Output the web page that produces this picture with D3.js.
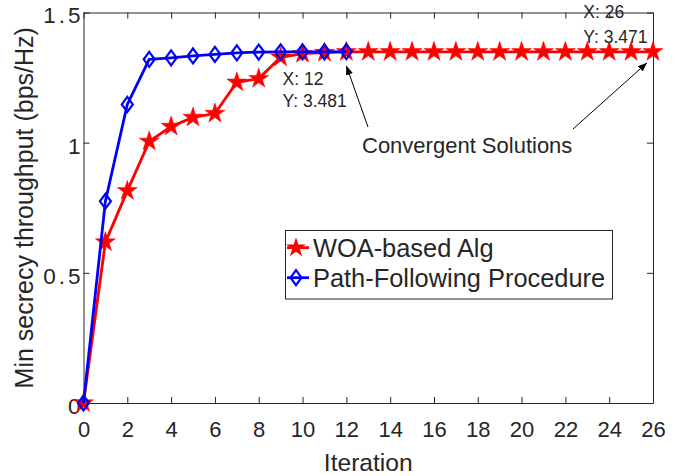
<!DOCTYPE html>
<html><head><meta charset="utf-8">
<script src="https://cdn.jsdelivr.net/npm/d3@7"></script>
<style>body{margin:0;background:#fff}svg{display:block}text{font-family:"Liberation Sans",Arial,Helvetica,sans-serif;fill:#262626}</style>
</head><body><svg id="c" width="689" height="476"></svg>
<script>
const iterations = d3.range(0, 27);
const woaValues = [0, 0.618, 0.815, 1.005, 1.062, 1.097, 1.112, 1.232, 1.246, 1.328, 1.342, 1.346, 1.349, 1.349, 1.349, 1.349, 1.349, 1.349, 1.349, 1.349, 1.349, 1.349, 1.349, 1.349, 1.349, 1.349, 1.349];
const pathIter = d3.range(0, 13);
const pathValues = [0, 0.775, 1.147, 1.320, 1.326, 1.333, 1.339, 1.345, 1.348, 1.349, 1.349, 1.349, 1.350];
const xTicks = d3.range(0, 27, 2);
const yTicks = [0, 0.5, 1, 1.5];
const seriesNames = ["WOA-based Alg", "Path-Following Procedure"];

(function () {
const svg = d3.select("#c");
const L = 83.5, R = 653, T = 12.5, B = 403;
const x = d3.scaleLinear().domain([0, 26]).range([L, R]);
const y = d3.scaleLinear().domain([0, 1.5]).range([B, T]);
const ax = "#262626";
const FF = '"Liberation Sans",Arial,sans-serif';

const axisG = svg.append("g");
const gBottom = axisG.append("g").attr("transform", `translate(0,${B})`)
  .call(d3.axisBottom(x).tickValues(xTicks).tickSizeInner(-6).tickSizeOuter(0).tickPadding(18).tickFormat(d3.format("d")));
axisG.append("g").attr("transform", `translate(0,${T})`)
  .call(d3.axisTop(x).tickValues(xTicks).tickSizeInner(-6).tickSizeOuter(0).tickFormat(""));
const gLeft = axisG.append("g").attr("transform", `translate(${L},0)`)
  .call(d3.axisLeft(y).tickValues(yTicks).tickSizeInner(-6).tickSizeOuter(0).tickPadding(0).tickFormat(d => d));
axisG.append("g").attr("transform", `translate(${R},0)`)
  .call(d3.axisRight(y).tickValues(yTicks).tickSizeInner(-6).tickSizeOuter(0).tickFormat(""));
axisG.selectAll("path.domain").attr("stroke", ax).attr("stroke-width", 1);
axisG.selectAll(".tick line").attr("stroke", ax).attr("stroke-width", 1);
gBottom.selectAll("text").attr("font-size", 22).attr("fill", ax).attr("font-family", FF).attr("dy", "0.71em");
gLeft.selectAll("text").attr("font-size", 22.5).attr("fill", ax).attr("font-family", FF).attr("dy", "0.46em").attr("letter-spacing", 3);

svg.append("text").attr("x", (L + R) / 2).attr("y", 471).attr("text-anchor", "middle").attr("font-size", 24.6).text("Iteration");
svg.append("text").attr("transform", `translate(33,${(T + B) / 2}) rotate(-90)`).attr("text-anchor", "middle").attr("font-size", 25).text("Min secrecy throughput (bps/Hz)");

function starPath(Ro) {
  const ri = Ro * 0.382; let p = "";
  for (let i = 0; i < 10; i++) {
    const r = i % 2 ? ri : Ro; const a = -Math.PI / 2 + i * Math.PI / 5;
    p += (i ? "L" : "M") + (r * Math.cos(a)).toFixed(2) + "," + (r * Math.sin(a)).toFixed(2);
  }
  return p + "Z";
}
const diamond = "M0,-7.5L5.5,0L0,7.5L-5.5,0Z";

const line = d3.line().x(d => x(d[0])).y(d => y(d[1]));
const woa = iterations.map((d, i) => [d, woaValues[i]]);
const pf = pathIter.map((d, i) => [d, pathValues[i]]);

svg.append("path").datum(woa).attr("d", line).attr("fill", "none").attr("stroke", "#ff0000").attr("stroke-width", 2.8);
svg.append("g").selectAll("path").data(woa).join("path").attr("d", starPath(10.5))
  .attr("transform", d => `translate(${x(d[0])},${y(d[1])})`).attr("fill", "#ff0000").attr("stroke", "#ff0000").attr("stroke-width", 0.5);
svg.append("path").datum(pf).attr("d", line).attr("fill", "none").attr("stroke", "#0000ff").attr("stroke-width", 2.8);
svg.append("g").selectAll("path").data(pf).join("path").attr("d", diamond)
  .attr("transform", d => `translate(${x(d[0])},${y(d[1])})`).attr("fill", "none").attr("stroke", "#0000ff").attr("stroke-width", 2.2);

const tipFont = 17.5;
[["X: 12", 282.5, 85], ["Y: 3.481", 282.5, 106.7], ["X: 26", 583.3, 18.3], ["Y: 3.471", 583.3, 43.3]].forEach(t =>
  svg.append("text").attr("x", t[1]).attr("y", t[2]).attr("font-size", tipFont).attr("fill", "#111").text(t[0]));

svg.append("defs").append("marker").attr("id", "ah").attr("viewBox", "0 0 10 10").attr("refX", 10).attr("refY", 5)
  .attr("markerWidth", 9).attr("markerHeight", 9).attr("markerUnits", "userSpaceOnUse").attr("orient", "auto")
  .append("path").attr("d", "M0,1L10,5L0,9Z").attr("fill", "#000");
svg.append("line").attr("x1", 368).attr("y1", 127).attr("x2", x(12)).attr("y2", y(1.349) + 14)
  .attr("stroke", "#000").attr("stroke-width", 1).attr("marker-end", "url(#ah)");
svg.append("line").attr("x1", 573).attr("y1", 129).attr("x2", x(26) - 6).attr("y2", y(1.349) + 11)
  .attr("stroke", "#000").attr("stroke-width", 1).attr("marker-end", "url(#ah)");
svg.append("text").attr("x", 362).attr("y", 153).attr("font-size", 22).attr("fill", "#111").text("Convergent Solutions");

const lg = svg.append("g");
lg.append("rect").attr("x", 285.5).attr("y", 230.5).attr("width", 327).attr("height", 68.5).attr("fill", "#fff").attr("stroke", ax).attr("stroke-width", 1);
const rows = [247.7, 277.7];
const baselines = [256.5, 286.5];
lg.append("line").attr("x1", 287).attr("x2", 309).attr("y1", rows[0]).attr("y2", rows[0]).attr("stroke", "#ff0000").attr("stroke-width", 2.8);
lg.append("path").attr("d", starPath(10.5)).attr("transform", `translate(296,${rows[0]})`).attr("fill", "#ff0000");
lg.append("line").attr("x1", 287).attr("x2", 309).attr("y1", rows[1]).attr("y2", rows[1]).attr("stroke", "#0000ff").attr("stroke-width", 2.8);
lg.append("path").attr("d", diamond).attr("transform", `translate(296,${rows[1]})`).attr("fill", "none").attr("stroke", "#0000ff").attr("stroke-width", 2.2);
seriesNames.forEach((n, i) => lg.append("text").attr("x", 313).attr("y", baselines[i]).attr("font-size", 25.4).attr("fill", "#111").text(n));
})();
</script></body></html>
